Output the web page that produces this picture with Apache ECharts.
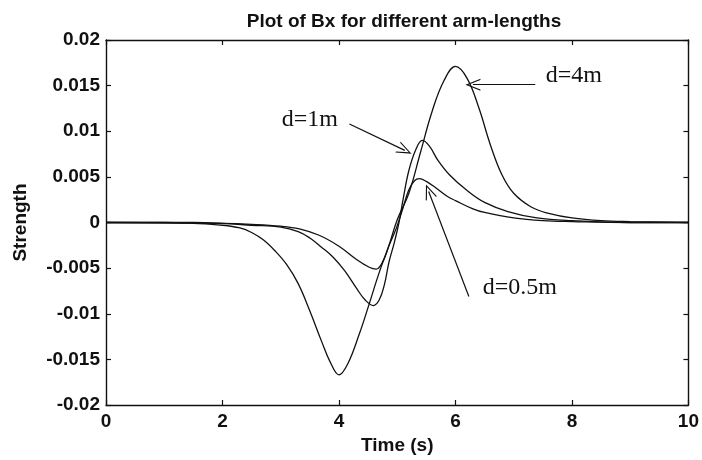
<!DOCTYPE html>
<html>
<head>
<meta charset="utf-8">
<script src="https://cdn.jsdelivr.net/npm/echarts@6/dist/echarts.min.js"></script>
<style>
html,body{margin:0;padding:0;background:#fff;}
#c{width:702px;height:460px;}
</style>
</head>
<body>
<div id="c"></div>
<script>
// ---- data ----
const t4  = [0, 1, 1.5, 2, 2.3, 2.5, 2.7, 2.9, 3.1, 3.3, 3.5, 3.7, 3.85, 4.0, 4.15, 4.35, 4.5, 4.7, 4.85, 5.0, 5.2, 5.4, 5.6, 5.8, 6.0, 6.2, 6.4, 6.6, 6.8, 7.0, 7.3, 7.6, 8.0, 8.5, 9, 10];
const v4  = [0, 0, -0.0001, -0.0003, -0.0006, -0.0011, -0.0019, -0.0031, -0.0046, -0.0067, -0.0097, -0.013, -0.0153, -0.0167, -0.0155, -0.0122, -0.0093, -0.0053, -0.0027, 0.0003, 0.0032, 0.0077, 0.0122, 0.0155, 0.0171, 0.0158, 0.0126, 0.0085, 0.0052, 0.0032, 0.0017, 0.001, 0.0005, 0.0002, 0.0001, 0];

const t1  = [0, 1.5, 2.0, 2.5, 3.0, 3.3, 3.5, 3.7, 3.9, 4.1, 4.3, 4.45, 4.59, 4.69, 4.78, 4.86, 4.95, 5.03, 5.1, 5.2, 5.32, 5.43, 5.55, 5.7, 5.9, 6.2, 6.5, 6.9, 7.4, 8, 9, 10];
const v1  = [0, 0, -0.0001, -0.0003, -0.0005, -0.001, -0.0017, -0.0027, -0.0038, -0.0053, -0.0072, -0.0085, -0.0091, -0.0085, -0.0068, -0.0043, -0.0022, 0.0, 0.0025, 0.0057, 0.008, 0.009, 0.0084, 0.0068, 0.0052, 0.0035, 0.0022, 0.0012, 0.0005, 0.0002, 0.0, 0];

const t05 = [0, 2, 2.5, 3.0, 3.32, 3.66, 4.0, 4.29, 4.52, 4.64, 4.75, 4.86, 4.98, 5.09, 5.2, 5.3, 5.38, 5.5, 5.66, 5.85, 6.0, 6.3, 6.5, 7.0, 7.5, 8, 9, 10];
const v05 = [0, -0.0001, -0.0002, -0.0004, -0.0007, -0.0014, -0.0026, -0.004, -0.0049, -0.0051, -0.0043, -0.0025, -0.0007, 0.0014, 0.0036, 0.0046, 0.0048, 0.0045, 0.0038, 0.0029, 0.0024, 0.0015, 0.0011, 0.0005, 0.0002, 0.0001, 0, 0];

const xTicks = [0, 2, 4, 6, 8, 10];
const yTicks = [-0.02, -0.015, -0.01, -0.005, 0, 0.005, 0.01, 0.015, 0.02];

// annotations: label text, label anchor (left edge, middle), arrow start, arrow tip (data coords)
const annText   = ['d=4m', 'd=1m', 'd=0.5m'];
const annAnchor = [[7.54, 0.0161], [3.01, 0.0113], [6.46, -0.0072]];
const annFrom   = [[7.37, 0.0151], [4.18, 0.0108], [6.23, -0.0081]];
const annTo     = [[6.3, 0.0151], [5.13, 0.0079], [5.54, 0.0034]];

const titleText = 'Plot of Bx for different arm-lengths';
const xName = 'Time (s)';
const yName = 'Strength';

// ---- chart ----
const zip = (a, b) => a.map((x, i) => [x, b[i]]);
const INK = '#111';
const FONT = 'Liberation Sans';
const FS = 19;
const arrowPath = 'path://M6,0 L12,15 L10.8,15 L6,3 L1.2,15 L0,15 Z';

function annotate(i) {
  return {
    markPoint: {
      silent: true,
      animation: false,
      data: [{
        coord: annAnchor[i],
        symbol: 'circle',
        symbolSize: 1,
        itemStyle: {color: 'rgba(0,0,0,0)'},
        label: {
          show: true, formatter: annText[i], position: 'right', distance: 0,
          fontFamily: 'Liberation Serif', fontSize: 24, color: INK
        }
      }]
    },
    markLine: {
      silent: true,
      animation: false,
      symbol: ['none', arrowPath],
      symbolSize: [12, 15],
      lineStyle: {color: INK, width: 1.2, type: 'solid'},
      label: {show: false},
      data: [[{coord: annFrom[i]}, {coord: annTo[i]}]]
    }
  };
}

const chart = echarts.init(document.getElementById('c'), null, {renderer: 'canvas'});

const axisCommon = {
  type: 'value',
  axisLine: {show: true, onZero: false, lineStyle: {color: INK, width: 1.4}},
  axisTick: {show: true, inside: true, length: 5, lineStyle: {color: INK, width: 1.2}},
  splitLine: {show: false},
};

const lineSeries = (name, t, v, i) => Object.assign({
  name, type: 'line', data: zip(t, v), smooth: 0.4, showSymbol: false, symbol: 'none',
  lineStyle: {color: INK, width: 1.3}, xAxisIndex: 0, yAxisIndex: 0, animation: false
}, annotate(i));

const labelStyle = {fontFamily: FONT, fontSize: FS, fontWeight: 'bold', color: INK};

chart.setOption({
  animation: false,
  backgroundColor: '#fff',
  title: {
    text: titleText, left: 399, top: 7, textAlign: 'center',
    textStyle: Object.assign({}, labelStyle)
  },
  grid: {left: 106, top: 40, right: 12, bottom: 50, containLabel: false},
  xAxis: [
    Object.assign({}, axisCommon, {
      position: 'bottom', min: xTicks[0], max: xTicks[xTicks.length - 1], interval: xTicks[1] - xTicks[0],
      name: xName, nameLocation: 'middle', nameGap: 31,
      nameTextStyle: Object.assign({}, labelStyle),
      axisLabel: Object.assign({margin: 7}, labelStyle)
    }),
    Object.assign({}, axisCommon, {
      position: 'top', min: xTicks[0], max: xTicks[xTicks.length - 1], interval: xTicks[1] - xTicks[0],
      axisLabel: {show: false}
    })
  ],
  yAxis: [
    Object.assign({}, axisCommon, {
      position: 'left', min: yTicks[0], max: yTicks[yTicks.length - 1], interval: 0.005,
      name: yName, nameLocation: 'middle', nameGap: 76, nameRotate: 90,
      nameTextStyle: Object.assign({}, labelStyle),
      axisLabel: Object.assign({margin: 6, formatter: v => String(+v.toFixed(3))}, labelStyle)
    }),
    Object.assign({}, axisCommon, {
      position: 'right', min: yTicks[0], max: yTicks[yTicks.length - 1], interval: 0.005,
      axisLabel: {show: false}
    })
  ],
  series: [
    lineSeries('d=4m', t4, v4, 0),
    lineSeries('d=1m', t1, v1, 1),
    lineSeries('d=0.5m', t05, v05, 2)
  ]
});
</script>
</body>
</html>
